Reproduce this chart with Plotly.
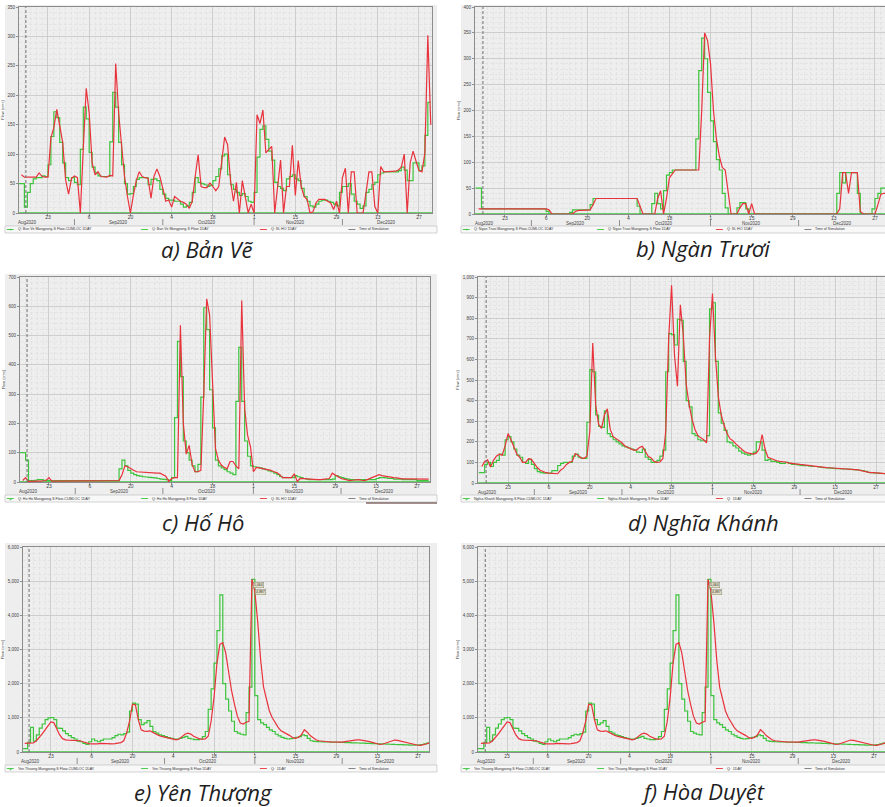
import pandas as pd
import plotly.graph_objects as go

W, H = 885, 807
DAY_MS = 86400000

# ---------------- data (daily values) ----------------
green_start = "2020-08-13"   # first day of the green (step) series
red_start = "2020-08-14"     # first day of the red series
sim_time = "2020-08-15 12:00"
tick_start = "2020-08-23"
month_labels = ["Aug2020", "Sep2020", "Oct2020", "Nov2020", "Dec2020"]
month_label_dates = ["2020-08-16", "2020-09-16", "2020-10-16", "2020-11-15", "2020-12-16"]
month_breaks = ["2020-09-01", "2020-10-01", "2020-11-01", "2020-12-01"]

captions = ["a) Bản Vẽ", "b) Ngàn Trươi", "c) Hố Hô", "d) Nghĩa Khánh", "e) Yên Thượng", "f) Hòa Duyệt"]

ban_ve_green = [50, 50, 10, 35, 50, 58, 60, 60, 63, 62,
                82, 130, 172, 162, 120, 85, 60, 55, 60, 52,
                48, 108, 180, 160, 103, 78, 68, 63, 62, 62,
                62, 121, 205, 180, 120, 82, 50, 32, 33, 45,
                57, 60, 60, 60, 48, 57, 58, 55, 40, 32,
                25, 22, 22, 20, 20, 15, 10, 12, 18, 35,
                60, 52, 50, 48, 45, 47, 55, 62, 75, 97,
                100, 65, 48, 40, 35, 30, 33, 28, 20, 18,
                35, 95, 142, 148, 125, 105, 90, 52, 45, 42,
                38, 58, 62, 65, 58, 55, 42, 28, 20, 12,
                10, 15, 20, 22, 22, 20, 18, 15, 12, 35,
                45, 45, 50, 32, 20, 15, 8, 12, 35, 40,
                48, 52, 65, 68, 70, 70, 70, 70, 70, 72,
                78, 73, 55, 55, 85, 85, 72, 80, 132, 188,
                188]
ban_ve_red = [65, 61, 61, 61, 61, 61, 68, 62, 61, 61,
              128, 145, 176, 145, 120, 56, 32, 59, 63, 60,
              0, 110, 212, 170, 85, 65, 70, 62, 61, 61,
              64, 63, 254, 170, 115, 62, 28, 0, 30, 55,
              70, 62, 60, 59, 25, 62, 75, 62, 42, 20,
              22, 10, 28, 24, 20, 18, 15, 8, 20, 62,
              99, 45, 43, 43, 51, 45, 38, 45, 85, 129,
              116, 55, 20, 52, 0, 55, 28, 0, 15, 0,
              167, 152, 175, 102, 108, 113, 0, 51, 90, 0,
              45, 45, 115, 30, 89, 45, 28, 23, 0, 2,
              17, 23, 23, 23, 20, 17, 6, 20, 0, 60,
              76, 0, 70, 70, 0, 0, 0, 34, 70, 70,
              11, 0, 79, 70, 70, 70, 70, 71, 73, 78,
              100, 0, 85, 105, 88, 72, 70, 102, 302, 150]

ngan_truoi_green = [50, 50, 10, 10, 10, 10, 10, 10, 10, 10,
                    10, 10, 10, 10, 10, 10, 10, 10, 10, 10,
                    10, 10, 10, 10, 5, 0, 0, 0, 0, 0,
                    0, 0, 3, 8, 8, 8, 8, 8, 8, 18,
                    30, 30, 30, 30, 30, 30, 30, 30, 30, 30,
                    30, 30, 30, 30, 30, 15, 0, 0, 0, 0,
                    20, 40, 20, 10, 45, 75, 80, 85, 85, 85,
                    85, 85, 85, 85, 85, 145, 277, 340, 300, 235,
                    180, 140, 105, 85, 40, 12, 0, 0, 0, 12,
                    22, 22, 10, 0, 0, 0, 0, 0, 0, 0,
                    0, 0, 0, 0, 0, 0, 0, 0, 0, 0,
                    0, 0, 0, 0, 0, 0, 0, 0, 0, 0,
                    0, 0, 0, 40, 80, 60, 80, 80, 80, 80,
                    40, 0, 0, 0, 0, 10, 30, 40, 50, 50,
                    50]
ngan_truoi_red = [10, 10, 10, 10, 10, 10, 10, 10, 10, 10,
                  10, 10, 10, 10, 10, 10, 10, 10, 10, 10,
                  10, 10, 10, 10, 8, 0, 0, 0, 0, 0,
                  0, 0, 0, 5, 7, 7, 7, 8, 8, 18,
                  30, 30, 30, 30, 30, 30, 30, 30, 30, 30,
                  30, 30, 30, 30, 30, 15, 0, 0, 0, 0,
                  0, 30, 45, 0, 30, 70, 78, 85, 85, 85,
                  85, 85, 85, 85, 85, 85, 200, 350, 335, 290,
                  200, 145, 112, 90, 85, 40, 0, 0, 0, 12,
                  20, 20, 0, 20, 0, 0, 0, 0, 0, 0,
                  0, 0, 0, 0, 0, 0, 0, 0, 0, 0,
                  0, 0, 0, 0, 0, 0, 0, 0, 0, 0,
                  0, 0, 0, 10, 80, 80, 40, 80, 80, 80,
                  5, 0, 0, 0, 0, 0, 18, 38, 40, 40]

ho_ho_green = [100, 100, 75, 5, 5, 6, 8, 8, 6, 5,
               5, 5, 5, 5, 5, 5, 5, 5, 5, 5,
               5, 5, 5, 5, 5, 5, 5, 5, 5, 5,
               5, 5, 5, 5, 45, 75, 55, 40, 30, 25,
               22, 20, 18, 17, 16, 15, 14, 12, 10, 9,
               8, 5, 15, 220, 480, 360, 140, 100, 75, 55,
               35, 60, 290, 595, 520, 315, 185, 75, 55, 48,
               42, 35, 30, 25, 275, 460, 275, 140, 88, 55,
               52, 50, 48, 45, 42, 38, 35, 30, 25, 18,
               15, 15, 15, 15, 22, 18, 15, 12, 10, 8,
               8, 8, 8, 8, 8, 8, 8, 10, 22, 18,
               15, 12, 10, 8, 8, 8, 8, 8, 8, 8,
               8, 8, 12, 15, 15, 14, 12, 12, 10, 10,
               10, 8, 8, 8, 8, 8, 5, 5, 5, 5,
               5]
ho_ho_red = [5, 15, 2, 3, 3, 3, 3, 3, 5, 15,
             3, 3, 3, 3, 3, 3, 3, 3, 3, 3,
             3, 3, 3, 3, 3, 3, 3, 3, 3, 3,
             3, 3, 3, 5, 25, 55, 52, 45, 40, 35,
             34, 33, 33, 32, 32, 31, 30, 30, 25, 20,
             2, 12, 15, 15, 535, 200, 95, 125, 60, 35,
             35, 40, 300, 625, 570, 310, 115, 75, 58, 50,
             45, 70, 70, 55, 45, 620, 250, 160, 120, 35,
             50, 48, 46, 42, 40, 40, 35, 32, 25, 15,
             15, 15, 15, 28, 2, 12, 11, 10, 10, 9,
             8, 8, 8, 9, 10, 12, 30, 25, 18, 12,
             10, 8, 5, 6, 8, 8, 6, 5, 8, 12,
             15, 20, 25, 22, 20, 18, 15, 15, 14, 12,
             11, 11, 11, 11, 11, 10, 10, 10, 10, 10]

nghia_khanh_green = [50, 50, 90, 100, 80, 100, 110, 140, 135, 210,
                     225, 200, 165, 135, 125, 100, 95, 115, 90, 70,
                     55, 50, 48, 48, 48, 60, 60, 85, 95, 100,
                     100, 100, 130, 140, 125, 120, 120, 295, 550, 540,
                     330, 275, 270, 350, 240, 225, 210, 200, 190, 180,
                     175, 170, 165, 160, 150, 148, 165, 125, 115, 100,
                     100, 110, 130, 160, 540, 725, 720, 670, 795, 790,
                     590, 400, 370, 240, 230, 210, 205, 205, 230, 845,
                     875, 590, 340, 290, 255, 200, 195, 180, 170, 155,
                     145, 140, 135, 140, 150, 200, 200, 160, 110, 115,
                     105, 105, 100, 95, 95, 100, 95, 90, 90, 88,
                     86, 84, 84, 82, 80, 80, 78, 76, 75, 73,
                     72, 71, 70, 70, 69, 68, 67, 66, 65, 64,
                     62, 60, 56, 52, 50, 49, 48, 47, 46, 45,
                     45]
nghia_khanh_red = [80, 105, 112, 78, 110, 130, 140, 135, 180, 240,
                   210, 170, 140, 125, 100, 100, 118, 115, 95, 75,
                   62, 55, 50, 48, 46, 45, 45, 62, 72, 90,
                   100, 105, 143, 135, 122, 120, 130, 250, 680, 380,
                   285, 265, 330, 360, 260, 225, 215, 205, 195, 180,
                   172, 165, 160, 160, 172, 178, 155, 130, 122, 105,
                   100, 102, 118, 250, 700, 960, 620, 470, 865, 720,
                   480, 380, 310, 260, 230, 220, 210, 195, 700, 920,
                   620, 420, 330, 280, 240, 215, 205, 190, 178, 162,
                   152, 146, 142, 140, 145, 165, 235, 165, 125, 118,
                   112, 108, 105, 105, 102, 98, 95, 93, 92, 90,
                   88, 86, 85, 83, 82, 80, 79, 77, 75, 74,
                   73, 72, 71, 70, 70, 69, 68, 67, 66, 64,
                   60, 56, 52, 50, 50, 49, 48, 47, 46, 45]

yen_thuong_green = [100, 100, 280, 720, 320, 500, 700, 820, 950, 1000,
                    1010, 950, 700, 690, 620, 540, 480, 420, 380, 320,
                    300, 250, 220, 300, 380, 330, 300, 340, 380, 380,
                    380, 420, 480, 520, 500, 540, 580, 1200, 1430, 1400,
                    950, 800, 850, 920, 750, 600, 550, 500, 480, 450,
                    420, 400, 380, 380, 400, 430, 460, 400, 380, 360,
                    360, 380, 450, 600, 1250, 1850, 2600, 3550, 4600, 2000,
                    1550, 1200, 900, 600, 550, 520, 500, 1150, 1900, 5050,
                    1650, 950, 850, 800, 720, 650, 600, 520, 470, 430,
                    400, 380, 390, 410, 430, 450, 500, 480, 400, 330,
                    310, 305, 300, 298, 295, 292, 290, 288, 285, 282,
                    280, 277, 274, 270, 267, 264, 260, 257, 254, 250,
                    247, 244, 240, 237, 234, 230, 227, 224, 220, 217,
                    214, 210, 207, 204, 200, 205, 210, 220, 240, 260,
                    280]
yen_thuong_red = [250, 250, 255, 265, 330, 420, 530, 650, 780, 880,
                  860, 700, 500, 390, 355, 345, 340, 355, 345, 330,
                  300, 270, 245, 235, 230, 238, 250, 243, 232, 230,
                  235, 245, 255, 275, 330, 560, 900, 1400, 1380, 950,
                  650, 610, 605, 620, 575, 525, 485, 455, 430, 410,
                  395, 375, 355, 380, 450, 520, 550, 525, 460, 410,
                  385, 375, 380, 460, 900, 1600, 2600, 3150, 3200, 2900,
                  2300, 1800, 1400, 1050, 850, 820, 870, 900, 5050, 4700,
                  3800, 2700, 1900, 1500, 1200, 1000, 850, 720, 620, 580,
                  530, 480, 420, 400, 430, 500, 650, 580, 480, 410,
                  360, 330, 315, 305, 300, 295, 290, 285, 280, 290,
                  305, 320, 335, 345, 355, 355, 345, 330, 310, 290,
                  270, 240, 220, 235, 265, 310, 340, 350, 340, 320,
                  300, 285, 260, 235, 210, 198, 195, 210, 240, 270]

hoa_duyet_green = list(yen_thuong_green)
hoa_duyet_red = list(yen_thuong_red)

peak_labels = ["5,064", "4,887"]
peak_label_values = [4890, 4680]
peak_label_date = "2020-10-31"

legend_texts = [
    ["Q: Ban Ve Mangpong-S Flow-CUMLOC 1DAY", "Q: Ban Ve Mangpong-S Flow 1DAY", "Q: SL HO 1DAY", "Time of Simulation"],
    ["Q: Ngan Truoi Mangpong-S Flow-CUMLOC 1DAY", "Q: Ngan Truoi Mangpong-S Flow 1DAY", "Q: SL HO 1DAY", "Time of Simulation"],
    ["Q: Ho Ho Mangpong-S Flow-CUMLOC 1DAY", "Q: Ho Ho Mangpong-S Flow 1DAY", "Q: SL HO 1DAY", "Time of Simulation"],
    ["Nghia Khanh Mangpong-S Flow-CUMLOC 1DAY", "Nghia Khanh Mangpong-S Flow 1DAY", "Q:  1DAY", "Time of Simulation"],
    ["Yen Thuong Mangpong-S Flow-CUMLOC 1DAY", "Yen Thuong Mangpong-S Flow 1DAY", "Q:  1DAY", "Time of Simulation"],
    ["Yen Thuong Mangpong-S Flow-CUMLOC 1DAY", "Yen Thuong Mangpong-S Flow 1DAY", "Q:  1DAY", "Time of Simulation"],
]

# ---------------- layout / styling ----------------
GREEN = "#3cc43c"
RED = "#e8323c"
FRAME = "#eeeeee"
TICKFONT = "Liberation Sans, Arial"

panels = [
    dict(green=ban_ve_green, red=ban_ve_red, plot=(19, 432, 7, 213), frame=(5, 437, 5, 233),
         xr=["2020-08-13 04:00", "2020-12-31 10:00"], ymax=350, ydt=50, ymin=10, cap=(207, 249)),
    dict(green=ngan_truoi_green, red=ngan_truoi_red, plot=(475, 885, 7, 214), frame=(461, 893, 5, 233),
         xr=["2020-08-12 19:00", "2020-12-30 10:00"], ymax=400, ydt=50, ymin=10, cap=(703, 248)),
    dict(green=ho_ho_green, red=ho_ho_red, plot=(20, 430, 277, 482), frame=(5, 437, 274, 502),
         xr=["2020-08-13 02:00", "2020-12-31 11:00"], ymax=700, ydt=100, ymin=20, cap=(203, 522)),
    dict(green=nghia_khanh_green, red=nghia_khanh_red, plot=(478, 885, 277, 483), frame=(461, 893, 275, 502),
         xr=["2020-08-12 17:00", "2020-12-30 02:00"], ymax=1000, ydt=100, ymin=20, cap=(703, 522)),
    dict(green=yen_thuong_green, red=yen_thuong_red, plot=(23, 429, 547, 752), frame=(5, 437, 543, 772),
         xr=["2020-08-13 10:00", "2020-12-30 19:00"], ymax=6000, ydt=1000, ymin=200, cap=(203, 792)),
    dict(green=hoa_duyet_green, red=hoa_duyet_red, plot=(478, 885, 547, 752), frame=(461, 893, 543, 772),
         xr=["2020-08-13 00:00", "2020-12-30 19:00"], ymax=6000, ydt=1000, ymin=200, cap=(703, 791)),
]


def px(x):
    return x / W


def py(y):
    return 1 - y / H


fig = go.Figure()
shapes = []
annotations = []
layout = {}

for i, p in enumerate(panels, start=1):
    sfx = "" if i == 1 else str(i)
    xa, ya = "x" + sfx, "y" + sfx
    x0, x1, y0, y1 = p["plot"]
    fx0, fx1, fy0, fy1 = p["frame"]

    gdates = pd.date_range(green_start, periods=len(p["green"]), freq="D")
    rdates = pd.date_range(red_start, periods=len(p["red"]), freq="D")

    # CUMLOC baseline (flat at zero)
    fig.add_trace(go.Scatter(x=[p["xr"][0], p["xr"][1]], y=[0, 0], mode="lines",
                             line=dict(color=GREEN, width=1.6), xaxis=xa, yaxis=ya,
                             showlegend=False, hoverinfo="skip"))
    fig.add_trace(go.Scatter(x=gdates, y=p["green"], mode="lines",
                             line=dict(color=GREEN, width=1.2, shape="hv"), xaxis=xa, yaxis=ya,
                             showlegend=False, hoverinfo="skip"))
    fig.add_trace(go.Scatter(x=rdates, y=p["red"], mode="lines",
                             line=dict(color=RED, width=1.2), xaxis=xa, yaxis=ya,
                             showlegend=False, hoverinfo="skip"))

    layout["xaxis" + sfx] = dict(
        domain=[px(x0), px(x1)], anchor=ya, type="date", range=p["xr"], automargin=False,
        tick0=tick_start, dtick=14 * DAY_MS, tickformat="%-d",
        ticks="outside", ticklen=2, tickcolor="#777", tickwidth=0.8, ticklabelstandoff=-3,
        tickfont=dict(size=5, color="#444", family=TICKFONT),
        showgrid=True, gridcolor="#c6c6c6", gridwidth=0.8,
        minor=dict(dtick=2 * DAY_MS, tick0=tick_start, showgrid=True,
                   gridcolor="#dedede", griddash="3px,2px", gridwidth=0.7),
        showline=True, linecolor="#8c8c8c", linewidth=1, mirror=True,
        zeroline=False, fixedrange=True)
    layout["yaxis" + sfx] = dict(
        domain=[py(y1), py(y0)], anchor=xa, range=[0, p["ymax"]], dtick=p["ydt"], automargin=False,
        tickformat=",", ticks="outside", ticklen=2, tickcolor="#777", tickwidth=0.8,
        tickfont=dict(size=4.5, color="#444", family=TICKFONT),
        showgrid=True, gridcolor="#c6c6c6", gridwidth=0.8,
        minor=dict(dtick=p["ymin"], showgrid=True, gridcolor="#e0e0e0",
                   griddash="3px,2px", gridwidth=0.7),
        showline=True, linecolor="#8c8c8c", linewidth=1, mirror=True,
        zeroline=False, fixedrange=True,
        title=dict(text="Flow (cms)", font=dict(size=4, color="#444", family=TICKFONT), standoff=3))

    # screenshot frame background
    shapes.append(dict(type="rect", xref="paper", yref="paper", layer="below",
                       x0=px(fx0), x1=px(fx1), y0=py(fy1), y1=py(fy0),
                       fillcolor=FRAME, line=dict(width=0)))
    # legend strip
    ls0, ls1 = fy1 - 7, fy1
    shapes.append(dict(type="rect", xref="paper", yref="paper", layer="below",
                       x0=px(fx0), x1=px(fx1), y0=py(ls1), y1=py(ls0),
                       fillcolor="#f8f8f8", line=dict(color="#b5b5b5", width=0.6)))
    # time of simulation
    shapes.append(dict(type="line", xref=xa, yref=ya + " domain", x0=sim_time, x1=sim_time,
                       y0=0, y1=1, line=dict(color="#707070", width=1, dash="3px,2px")))
    # month separators
    for mb in month_breaks:
        shapes.append(dict(type="line", xref=xa, yref="paper", x0=mb, x1=mb,
                           y0=py(y1 + 12), y1=py(y1 + 6), line=dict(color="#777", width=0.8)))
    for ml, md in zip(month_labels, month_label_dates):
        annotations.append(dict(text=ml, xref=xa, yref="paper", x=md, y=py(y1 + 9.5),
                                xanchor="center", yanchor="middle",
                                showarrow=False, font=dict(size=4.5, color="#444", family=TICKFONT)))

    # legend items
    ly = (ls0 + ls1) / 2
    kinds = ["cum", "green", "red", "dash"]
    fracs = [0.004, 0.315, 0.59, 0.795]
    for k, fr, txt in zip(kinds, fracs, legend_texts[i - 1]):
        sx = fx0 + fr * 432
        col = {"cum": GREEN, "green": GREEN, "red": RED, "dash": "#777"}[k]
        shapes.append(dict(type="line", xref="paper", yref="paper",
                           x0=px(sx), x1=px(sx + 7), y0=py(ly), y1=py(ly),
                           line=dict(color=col, width=0.9, dash="dash" if k == "dash" else "solid")))
        if k == "cum":
            annotations.append(dict(text="+", xref="paper", yref="paper", x=px(sx + 3.5), y=py(ly),
                                    xanchor="center", yanchor="middle",
                                    showarrow=False, font=dict(size=5, color=GREEN, family=TICKFONT)))
        annotations.append(dict(text=txt, xref="paper", yref="paper", x=px(sx + 9), y=py(ly),
                                xanchor="left", yanchor="middle", showarrow=False,
                                font=dict(size=3.6, color="#333", family=TICKFONT)))

    # caption
    annotations.append(dict(text=captions[i - 1], xref="paper", yref="paper",
                            x=px(p["cap"][0]), y=py(p["cap"][1]), xanchor="center", yanchor="middle",
                            showarrow=False,
                            font=dict(size=22, color="#1e1e1e", family="Open Sans", style="italic")))

    # peak value flags for e and f
    if i >= 5:
        for j, (lab, val) in enumerate(zip(peak_labels, peak_label_values)):
            annotations.append(dict(text=lab, xref=xa, yref=ya, x=peak_label_date, y=val,
                                    xanchor="left", yanchor="middle", xshift=1 + 2 * j, showarrow=False,
                                    bgcolor="#e4e1c6", bordercolor="#8a8870", borderwidth=0.5,
                                    borderpad=0.5, font=dict(size=3.5, color="#333", family=TICKFONT)))

# artefact: dark line under panel c legend
shapes.append(dict(type="line", xref="paper", yref="paper", x0=px(366), x1=px(437),
                   y0=py(503), y1=py(503), line=dict(color="#4a2020", width=1)))

fig.update_layout(
    width=W, height=H, margin=dict(l=0, r=0, t=0, b=0),
    paper_bgcolor="white", plot_bgcolor="white",
    showlegend=False, shapes=shapes, annotations=annotations, **layout)

# the page is photographed at exactly the figure size, so drop the browser's default body margin
fig.write_html("out.html", config={"displayModeBar": False, "staticPlot": True},
               post_script="document.body.style.margin='0px';")
